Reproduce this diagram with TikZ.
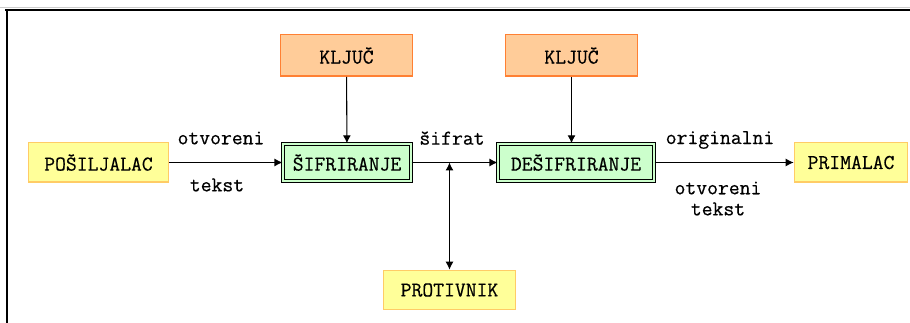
\documentclass[tikz,border=0pt]{standalone}
\usepackage{fontspec}
\setmonofont{Latin Modern Mono}[AutoFakeBold=0.5]
\usepackage{tikz}
\usetikzlibrary{arrows.meta, positioning, calc}

\definecolor{kljucfill}{HTML}{FFCC99}
\definecolor{kljucdraw}{HTML}{FF8033}
\definecolor{strankafill}{HTML}{FFFF99}
\definecolor{strankadraw}{HTML}{FFCC66}
\definecolor{procesfill}{HTML}{CCFFCC}

\begin{document}
\begin{tikzpicture}[
    x=0.75pt, y=-0.75pt,
    every node/.style={font=\ttfamily\bfseries\fontsize{15.8}{18}\selectfont, inner sep=0pt},
    kljucbox/.style={draw=kljucdraw, line width=1pt, fill=kljucfill, minimum width=99pt, minimum height=31pt},
    strankabox/.style={draw=strankadraw, line width=1pt, fill=strankafill, minimum height=29.5pt},
    procesbox/.style={draw=black, line width=0.8pt, double=procesfill, double distance=1.6pt, fill=procesfill, minimum height=28pt},
    rel/.style={-{Latex[length=6pt, width=6pt]}, line width=0.8pt}
]
\useasboundingbox (0,0) rectangle (910,323);
\draw[black!20, line width=0.8pt] (0,7.5) -- (910,7.5);
\draw[line width=1.6pt] (5,10) -- (910,10);
\draw[line width=1.6pt] (7,10) -- (7,323);

\node[kljucbox] (kljuc1) at (346.5,55.5) {KLJUČ};
\node[kljucbox] (kljuc2) at (571.5,55.5) {KLJUČ};
\node[strankabox, minimum width=105pt] (posiljalac) at (98.5,162.5) {POŠILJALAC};
\node[procesbox, minimum width=96pt] (sifriranje) at (347,162.5) {ŠIFRIRANJE};
\node[procesbox, minimum width=117pt] (desifriranje) at (576,162.5) {DEŠIFRIRANJE};
\node[strankabox, minimum width=85pt] (primalac) at (851,162.5) {PRIMALAC};
\node[strankabox, minimum width=99pt] (protivnik) at (449.5,290) {PROTIVNIK};

\coordinate (presek) at (sifriranje.east -| protivnik.north);

\draw[rel] (posiljalac) -- (sifriranje);
\draw[rel] (sifriranje) -- (desifriranje);
\draw[rel] (desifriranje) -- (primalac);
\draw[rel] (kljuc1) -- (sifriranje);
\draw[rel] (kljuc2) -- (kljuc2 |- desifriranje.north);
\draw[rel, {Latex[length=6pt, width=6pt]}-{Latex[length=6pt, width=6pt]}] (presek) -- (protivnik);

\node (otvoreni1) at (221,138) {otvoreni};
\node (tekst1) at (217,185) {tekst};
\node (sifrat) at (452,138) {šifrat};
\node (originalni) at (720,140) {originalni};
\node (otvoreni2) at (718,188) {otvoreni};
\node (tekst2) at (718,209) {tekst};
\end{tikzpicture}
\end{document}
